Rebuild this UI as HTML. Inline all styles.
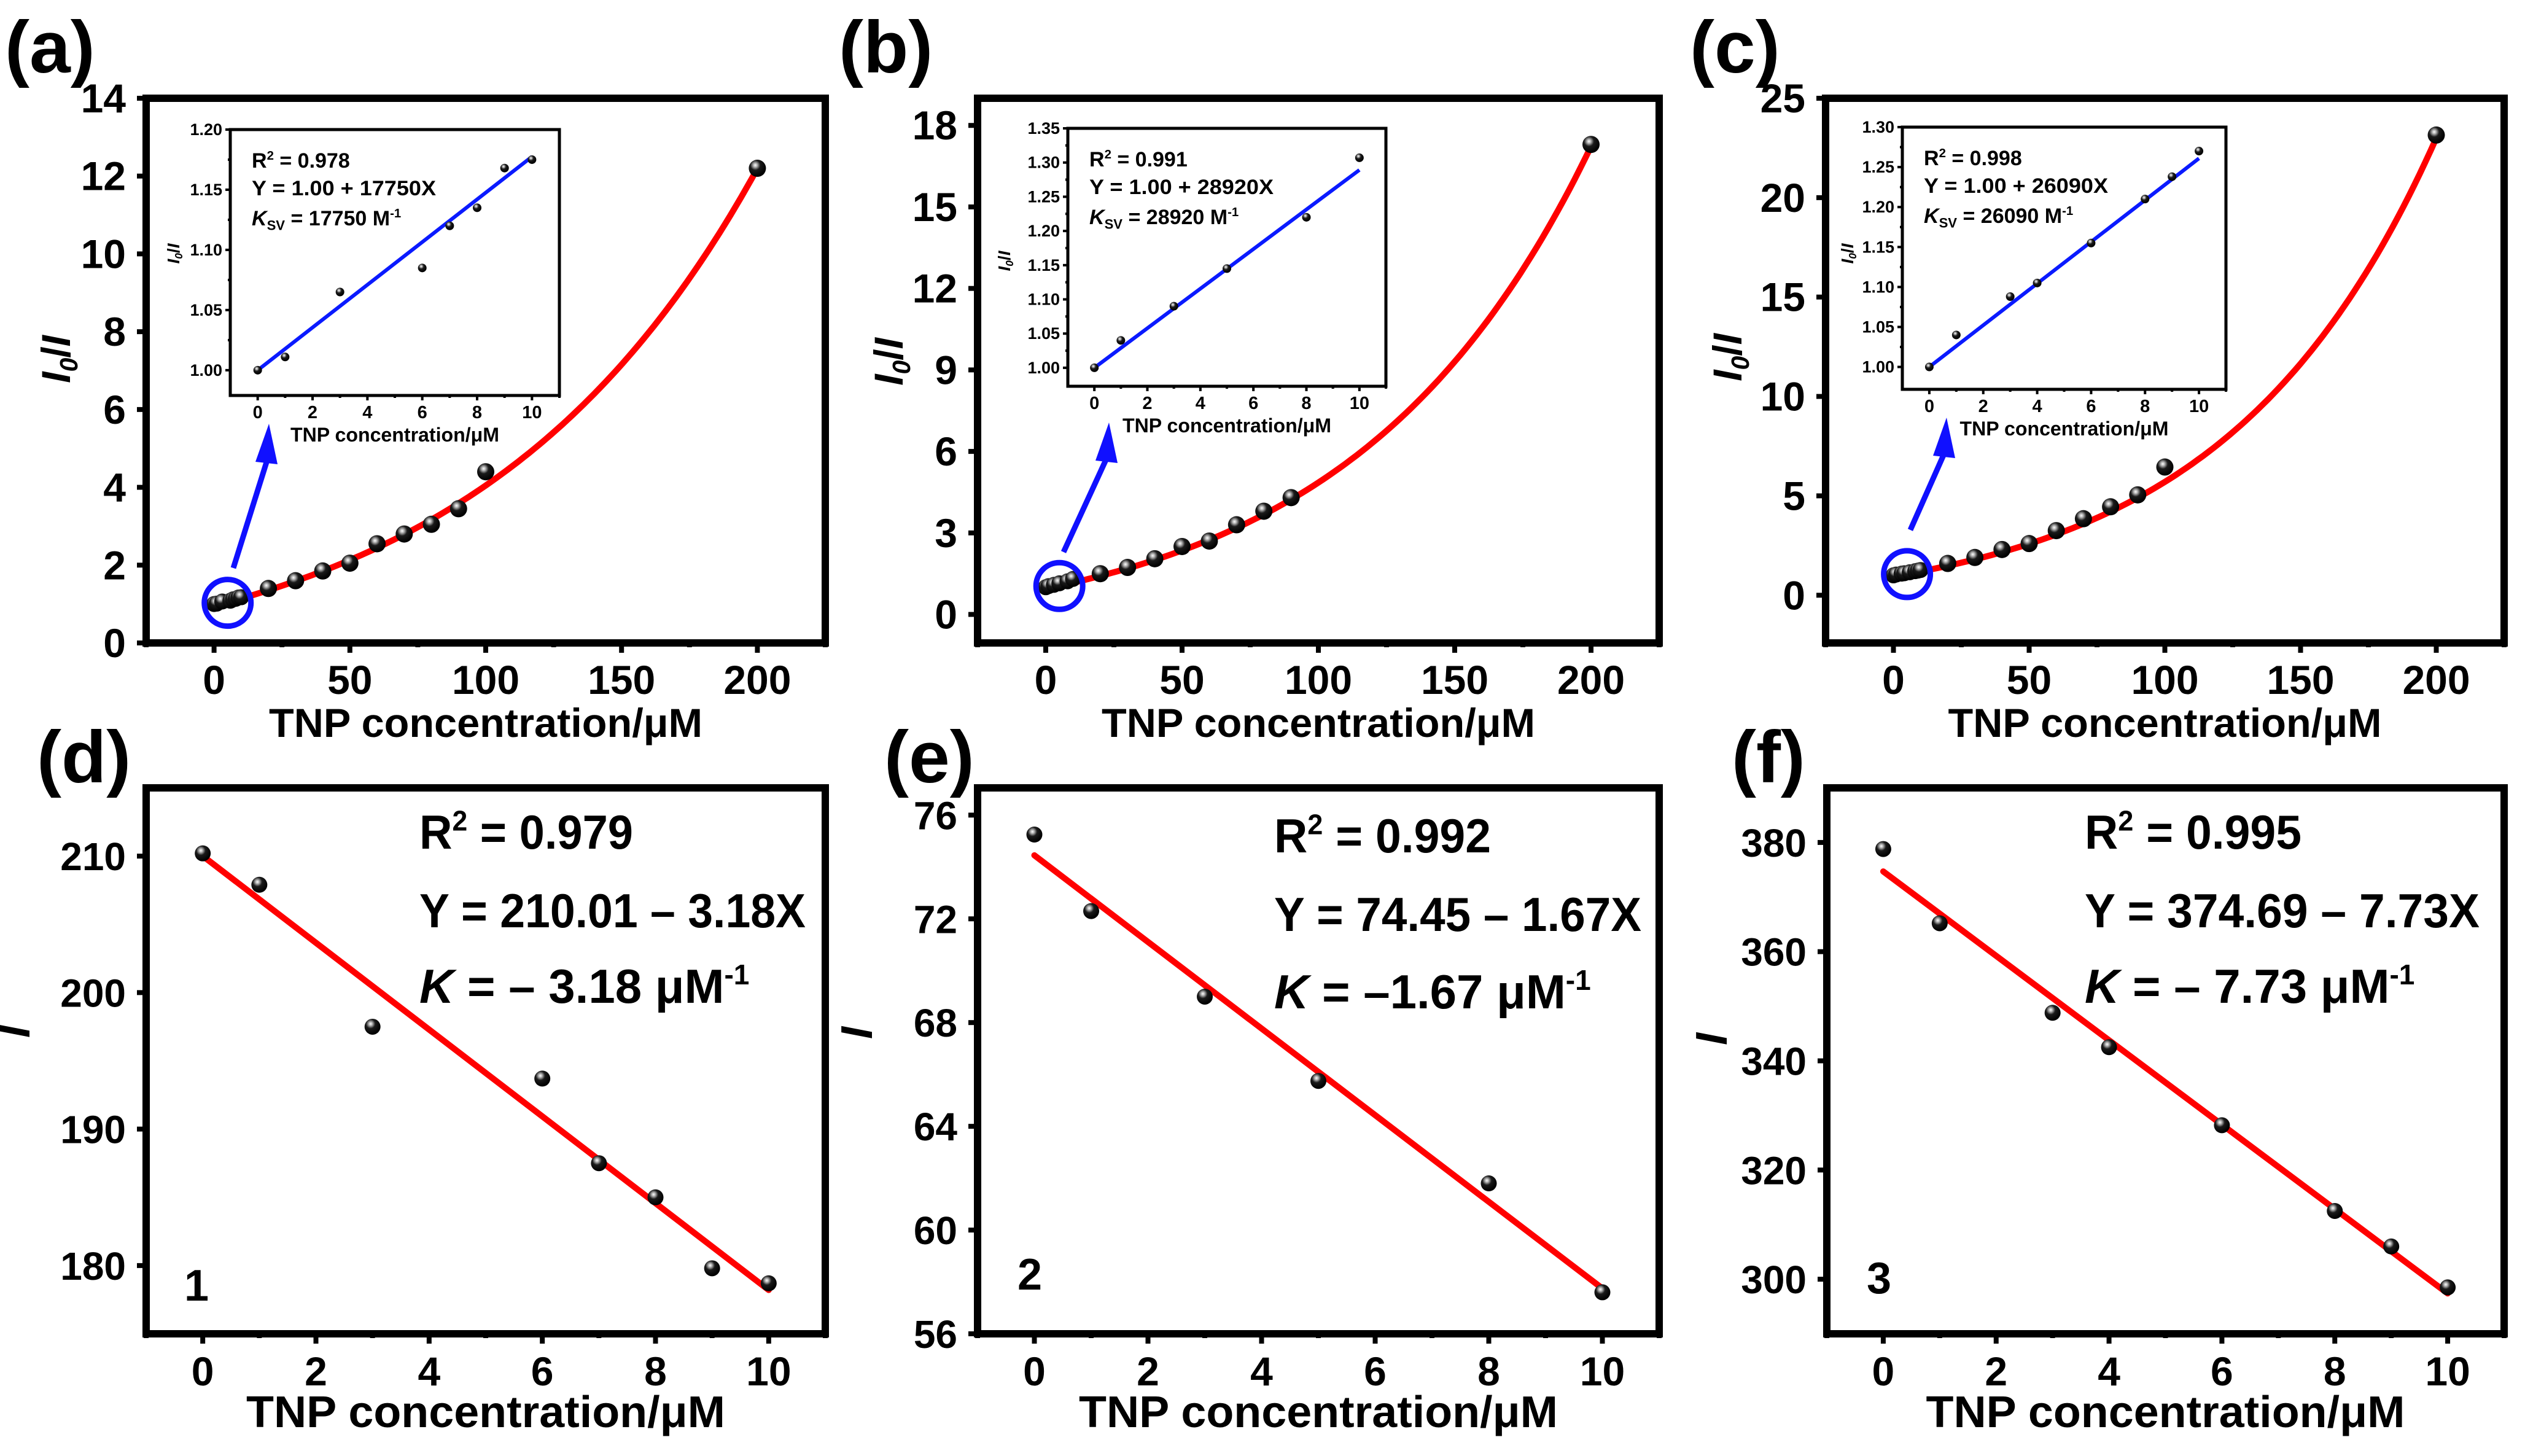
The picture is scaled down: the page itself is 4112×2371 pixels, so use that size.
<!DOCTYPE html>
<html><head><meta charset="utf-8"><title>TNP quenching plots</title>
<style>
html,body{margin:0;padding:0;background:#fff;}
svg{display:block;}
text{font-family:"Liberation Sans",Arial,sans-serif;font-weight:bold;fill:#000;}
</style></head>
<body>
<svg id="fig" xmlns="http://www.w3.org/2000/svg" width="4112" height="2371" viewBox="0 0 4112 2371">
<defs>
<radialGradient id="ball" cx="38%" cy="32%" r="65%">
<stop offset="0" stop-color="#ffffff"/>
<stop offset="0.18" stop-color="#b0b0b0"/>
<stop offset="0.45" stop-color="#1a1a1a"/>
<stop offset="1" stop-color="#000"/>
</radialGradient>
</defs>
</svg>
<script>
// ---------- data ----------
const aInsetX = [0,1,3,6,7,8,9,10];
const aInsetY = [1.000,1.011,1.065,1.085,1.120,1.135,1.168,1.175];
const aMainX = [20,30,40,50,60,70,80,90,100,200];
const aMainY = [1.4,1.6,1.85,2.05,2.55,2.8,3.05,3.45,4.4,12.2];
const aFitParams = [-0.95,1.90,103.4];   // y0, A, t  (exponential growth fit)
const aSlope = [1.00, 0.01775];

const bInsetX = [0,1,3,5,8,10];
const bInsetY = [1.000,1.040,1.090,1.145,1.220,1.307];
const bMainX = [20,30,40,50,60,70,80,90,200];
const bMainY = [1.5,1.73,2.05,2.5,2.7,3.3,3.8,4.3,17.3];
const bFitParams = [-0.85,1.80,86.7];
const bSlope = [1.00, 0.02892];

const cInsetX = [0,1,3,4,6,8,9,10];
const cInsetY = [1.000,1.040,1.088,1.105,1.155,1.210,1.238,1.270];
const cMainX = [20,30,40,50,60,70,80,90,100,200];
const cMainY = [1.6,1.9,2.3,2.6,3.25,3.85,4.45,5.05,6.45,23.15];
const cFitParams = [-0.85,1.80,77.4];
const cSlope = [1.00, 0.02609];

const dX = [0,1,3,6,7,8,9,10];
const dY = [210.2,207.9,197.5,193.7,187.5,185.0,179.8,178.7];
const dFit = [210.01,-3.18];
const eX = [0,1,3,5,8,10];
const eY = [75.25,72.3,69.0,65.75,61.8,57.6];
const eFit = [74.45,-1.67];
const fX = [0,1,3,4,6,8,9,10];
const fY = [378.8,365.2,348.8,342.5,328.2,312.5,306.0,298.5];
const fFit = [374.69,-7.73];

const topXTicks = [0,50,100,150,200];
const insetXTicks = [0,2,4,6,8,10];
const botXTicks = [0,2,4,6,8,10];
const aYTicks = [0,2,4,6,8,10,12,14];
const bYTicks = [0,3,6,9,12,15,18];
const cYTicks = [0,5,10,15,20,25];
const insetAYTicks = ["1.00","1.05","1.10","1.15","1.20"];
const insetBYTicks = ["1.00","1.05","1.10","1.15","1.20","1.25","1.30","1.35"];
const insetCYTicks = ["1.00","1.05","1.10","1.15","1.20","1.25","1.30"];
const dYTicks = [180,190,200,210];
const eYTicks = [56,60,64,68,72,76];
const fYTicks = [300,320,340,360,380];

// ---------- helpers ----------
const NS = "http://www.w3.org/2000/svg";
const svg = document.getElementById('fig');
function mk(parent, tag, attrs){
  const el = document.createElementNS(NS, tag);
  for (const k in attrs) el.setAttribute(k, attrs[k]);
  parent.appendChild(el);
  return el;
}
function scale(d0,d1,p0,p1){ return v => p0 + (v-d0)*(p1-p0)/(d1-d0); }
function frame(g, L,T,R,B,w){
  const r = mk(g,'rect',{x:L,y:T,width:R-L,height:B-T,fill:'none',stroke:'#000','stroke-width':w});
  
  
}
function tickLine(g,x1,y1,x2,y2,w){
  const t = mk(g,'line',{x1:x1,y1:y1,x2:x2,y2:y2,stroke:'#000','stroke-width':w});
  
  
}
function label(g,x,y,s,size,anchor,name){
  const t = mk(g,'text',{x:x,y:y,'font-size':size,'text-anchor':anchor||'start'});
  t.textContent = s;
  
  
  return t;
}
function ball(g,cx,cy,r){
  const c = mk(g,'circle',{cx:cx,cy:cy,r:r,fill:'url(#ball)'});
  
  
}
function yTitleI0(g,cx,cy,size,name){
  const t = mk(g,'text',{x:0,y:0,'font-size':size,'text-anchor':'middle',transform:'translate('+cx+','+cy+') rotate(-90)'});
  
  
  const a = mk(t,'tspan',{'font-style':'italic'}); a.textContent='I';
  const b = mk(t,'tspan',{'font-style':'italic','font-size':size*0.62,dy:size*0.18}); b.textContent='0';
  const c = mk(t,'tspan',{dy:-size*0.18}); c.textContent='/';
  const d = mk(t,'tspan',{'font-style':'italic'}); d.textContent='I';
}
function ksvText(g,x,y,size,num,name){
  const t = mk(g,'text',{x:x,y:y,'font-size':size});
  
  
  const k = mk(t,'tspan',{'font-style':'italic'}); k.textContent='K';
  const s = mk(t,'tspan',{'font-size':size*0.65,dy:size*0.22}); s.textContent='SV';
  const e = mk(t,'tspan',{dy:-size*0.22}); e.textContent=' = '+num+' M';
  const p = mk(t,'tspan',{'font-size':size*0.6,dy:-size*0.38}); p.textContent='-1';
}
function r2Text(g,x,y,size,val,name,len){
  const t = mk(g,'text',{x:x,y:y,'font-size':size});
  if(len){t.setAttribute('textLength',len);t.setAttribute('lengthAdjust','spacingAndGlyphs');}
  
  
  const a = mk(t,'tspan',{}); a.textContent='R';
  const b = mk(t,'tspan',{'font-size':size*0.6,dy:-size*0.38}); b.textContent='2';
  const c = mk(t,'tspan',{dy:size*0.38}); c.textContent=' = '+val;
}

// ---------- top panels ----------
function topPanel(cfg){
  const g = mk(svg,'g',{});
  
  
  const sx = scale(-25,225,cfg.L,cfg.R), sy = scale(cfg.y0,cfg.y1,cfg.B,cfg.T);
  label(g,cfg.lx,118,'('+cfg.id+')',120,'start','panel-label');
  cfg.yt.forEach(v=>{
    tickLine(g,cfg.L-15,sy(v),cfg.L,sy(v),8);
    label(g,cfg.L-33,sy(v)+23,String(v),66,'end','y-tick-label');
    const m = v + cfg.ystep/2;
    if (m < cfg.y1) tickLine(g,cfg.L-6,sy(m),cfg.L,sy(m),8);
  });
  topXTicks.forEach(v=>{
    tickLine(g,sx(v),cfg.B,sx(v),cfg.B+16,8);
    label(g,sx(v),1130,String(v),66,'middle','x-tick-label');
    tickLine(g,sx(v+25),cfg.B,sx(v+25),cfg.B+7,8);
  });
  tickLine(g,sx(-25),cfg.B,sx(-25),cfg.B+7,8);
  const xt = label(g,(cfg.L+cfg.R)/2,1200,'TNP concentration/μM',66,'middle','x-axis-title');
  xt.setAttribute('textLength',706); xt.setAttribute('lengthAdjust','spacingAndGlyphs');
  yTitleI0(g,cfg.ytx,cfg.yty,66,'y-axis-title');
  // fit curve from exponential model
  const p = cfg.fit;
  let d = "";
  for (let x=0; x<=200; x+=2){
    const y = p[0] + p[1]*Math.exp(x/p[2]);
    d += (x===0?"M":" L") + sx(x).toFixed(1) + "," + sy(y).toFixed(1);
  }
  const cur = mk(g,'path',{d:d,fill:'none',stroke:'#ff0000','stroke-width':10,'stroke-linecap':'round'});
  
  
  cfg.inX.forEach((x,i)=>ball(g,sx(x),sy(cfg.inY[i]),13));
  cfg.mX.forEach((x,i)=>ball(g,sx(x),sy(cfg.mY[i]),14));
  const cc = mk(g,'circle',{cx:sx(5),cy:sy(cfg.inY[0])-2,r:38,fill:'none',stroke:'#1010ff','stroke-width':9});
  
  
  const ar = mk(g,'line',{x1:cfg.ax1,y1:cfg.ay1,x2:cfg.ax2,y2:cfg.ay2+50,stroke:'#1010ff','stroke-width':9});
  
  
  const ah = mk(g,'polygon',{points:(cfg.ax2)+','+(cfg.ay2)+' '+(cfg.ax2-22)+','+(cfg.ay2+62)+' '+(cfg.ax2+14)+','+(cfg.ay2+66),fill:'#1010ff'});
  
  
  frame(g,cfg.L,cfg.T,cfg.R,cfg.B,12);

  // inset
  const ig = mk(g,'g',{});
  
  
  const I = cfg.inset;
  const ix = scale(-1,11,I.L,I.R), iy = scale(I.y0,I.y1,I.B,I.T);
  const rect = mk(ig,'rect',{x:I.L,y:I.T,width:I.R-I.L,height:I.B-I.T,fill:'#fff'});
  
  
  I.yt.forEach(s=>{
    const v = parseFloat(s);
    tickLine(ig,I.L-8,iy(v),I.L,iy(v),4);
    label(ig,I.L-13,iy(v)+9,s,27,'end','inset-y-tick-label');
    if (v+0.025 < I.y1) tickLine(ig,I.L-4,iy(v+0.025),I.L,iy(v+0.025),4);
  });
  insetXTicks.forEach(v=>{
    tickLine(ig,ix(v),I.B,ix(v),I.B+8,4);
    label(ig,ix(v),I.B+37,String(v),29,'middle','inset-x-tick-label');
    tickLine(ig,ix(v+1),I.B,ix(v+1),I.B+4,4);
  });
  const it = label(ig,(I.L+I.R)/2,I.B+75,'TNP concentration/μM',32,'middle','inset-x-axis-title');
  it.setAttribute('textLength',340); it.setAttribute('lengthAdjust','spacingAndGlyphs');
  yTitleI0(ig,I.ytx,I.yty,28,'inset-y-axis-title');
  const bl = mk(ig,'line',{x1:ix(0),y1:iy(cfg.slope[0]),x2:ix(10),y2:iy(cfg.slope[0]+cfg.slope[1]*10),stroke:'#0a1aff','stroke-width':6});
  
  
  cfg.inX.forEach((x,i)=>ball(ig,ix(x),iy(cfg.inY[i]),7));
  frame(ig,I.L,I.T,I.R,I.B,5);
  r2Text(ig,I.L+35,I.T+62,34,cfg.r2,'inset-r2-text');
  const yl = label(ig,I.L+35,I.T+107,'Y = 1.00 + '+cfg.k+'X',34,'start','inset-equation');
  yl.setAttribute('textLength',300); yl.setAttribute('lengthAdjust','spacingAndGlyphs');
  ksvText(ig,I.L+35,I.T+156,34,cfg.k,'inset-ksv-text');
}

topPanel({id:'a',L:238,R:1344,T:160,B:1047,y0:0,y1:14,yt:aYTicks,ystep:2,lx:8,ytx:114,yty:585,
  fit:aFitParams,inX:aInsetX,inY:aInsetY,mX:aMainX,mY:aMainY,slope:aSlope,r2:'0.978',k:'17750',
  ax1:380,ay1:925,ax2:438,ay2:690,
  inset:{L:375,R:911,T:211,B:644,y0:0.979,y1:1.20,yt:insetAYTicks,ytx:292,yty:413}});
topPanel({id:'b',L:1592,R:2702,T:160,B:1047,y0:-1.05,y1:19,yt:bYTicks,ystep:1.5,lx:1366,ytx:1470,yty:589,
  fit:bFitParams,inX:bInsetX,inY:bInsetY,mX:bMainX,mY:bMainY,slope:bSlope,r2:'0.991',k:'28920',
  ax1:1732,ay1:899,ax2:1806,ay2:688,
  inset:{L:1739,R:2257,T:209,B:629,y0:0.973,y1:1.35,yt:insetBYTicks,ytx:1645,yty:425}});
topPanel({id:'c',L:2973,R:4078,T:160,B:1047,y0:-2.4,y1:25,yt:cYTicks,ystep:2.5,lx:2752,ytx:2836,yty:582,
  fit:cFitParams,inX:cInsetX,inY:cInsetY,mX:cMainX,mY:cMainY,slope:cSlope,r2:'0.998',k:'26090',
  ax1:3111,ay1:863,ax2:3170,ay2:680,
  inset:{L:3098,R:3625,T:207,B:634,y0:0.972,y1:1.30,yt:insetCYTicks,ytx:3018,yty:413}});

// ---------- bottom panels ----------
function botPanel(cfg){
  const g = mk(svg,'g',{});
  
  
  const sx = scale(-1,11,cfg.L,cfg.R), sy = scale(cfg.y0,cfg.y1,cfg.B,cfg.T);
  label(g,cfg.lx,1274,'('+cfg.id+')',120,'start','panel-label');
  cfg.yt.forEach(v=>{
    tickLine(g,cfg.L-15,sy(v),cfg.L,sy(v),8);
    label(g,cfg.L-33,sy(v)+23,String(v),64,'end','y-tick-label');
    const m = v + cfg.ystep/2;
    if (m < cfg.y1) tickLine(g,cfg.L-6,sy(m),cfg.L,sy(m),8);
  });
  if (cfg.yt[0]-cfg.ystep/2 > cfg.y0) tickLine(g,cfg.L-6,sy(cfg.yt[0]-cfg.ystep/2),cfg.L,sy(cfg.yt[0]-cfg.ystep/2),8);
  botXTicks.forEach(v=>{
    tickLine(g,sx(v),cfg.B,sx(v),cfg.B+16,8);
    label(g,sx(v),2256,String(v),66,'middle','x-tick-label');
    tickLine(g,sx(v+1),cfg.B,sx(v+1),cfg.B+7,8);
  });
  tickLine(g,sx(-1),cfg.B,sx(-1),cfg.B+7,8);
  const xt = label(g,(cfg.L+cfg.R)/2,2324,'TNP concentration/μM',72,'middle','x-axis-title');
  xt.setAttribute('textLength',780); xt.setAttribute('lengthAdjust','spacingAndGlyphs');
  const yi = mk(g,'text',{x:0,y:0,'font-size':72,'font-style':'italic','text-anchor':'middle',transform:'translate('+cfg.ytx+','+cfg.yty+') rotate(-90)'});
  yi.textContent='I';
  
  
  const fl = mk(g,'line',{x1:sx(0),y1:sy(cfg.fit[0]),x2:sx(10),y2:sy(cfg.fit[0]+cfg.fit[1]*10),stroke:'#ff0000','stroke-width':10,'stroke-linecap':'round'});
  
  
  cfg.x.forEach((x,i)=>ball(g,sx(x),sy(cfg.y[i]),13));
  frame(g,cfg.L,cfg.T,cfg.R,cfg.B,12);
  r2Text(g,cfg.tx,cfg.t1,78,cfg.r2,'r2-text',cfg.w1);
  const eq = label(g,cfg.tx,cfg.t2,cfg.eq,78,'start','fit-equation');
  eq.setAttribute('textLength',cfg.w2); eq.setAttribute('lengthAdjust','spacingAndGlyphs');
  const kt = mk(g,'text',{x:cfg.tx,y:cfg.t3,'font-size':78});
  
  
  const k1 = mk(kt,'tspan',{'font-style':'italic'}); k1.textContent='K';
  const k2 = mk(kt,'tspan',{}); k2.textContent=' = '+cfg.kv+' μM';
  const k3 = mk(kt,'tspan',{'font-size':46,dy:-30}); k3.textContent='-1';
  label(g,cfg.nx,cfg.ny,cfg.num,72,'start','sample-number');
}
botPanel({id:'d',L:238,R:1344,T:1283,B:2172,y0:175,y1:215,yt:dYTicks,ystep:10,lx:60,ytx:48,yty:1680,num:'1',
  x:dX,y:dY,fit:dFit,r2:'0.979',eq:'Y = 210.01 – 3.18X',kv:'– 3.18',tx:683,t1:1382,t2:1510,t3:1633,w1:348,w2:629,nx:300,ny:2118});
botPanel({id:'e',L:1592,R:2702,T:1283,B:2172,y0:56,y1:77.05,yt:eYTicks,ystep:2,lx:1440,ytx:1420,yty:1682,num:'2',
  x:eX,y:eY,fit:eFit,r2:'0.992',eq:'Y = 74.45 – 1.67X',kv:'–1.67',tx:2075,t1:1388,t2:1516,t3:1642,w1:353,w2:598,nx:1657,ny:2100});
botPanel({id:'f',L:2975,R:4078,T:1283,B:2172,y0:290,y1:390,yt:fYTicks,ystep:20,lx:2820,ytx:2812,yty:1692,num:'3',
  x:fX,y:fY,fit:fFit,r2:'0.995',eq:'Y = 374.69 – 7.73X',kv:'– 7.73',tx:3395,t1:1382,t2:1510,t3:1633,w1:353,w2:643,nx:3040,ny:2106});
</script>
</body></html>
